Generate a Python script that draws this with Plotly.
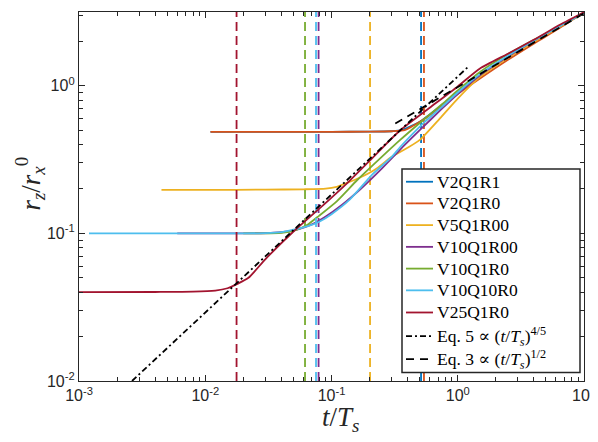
import plotly.graph_objects as go

# ---------------- data ----------------
names = ["V2Q1R1", "V2Q1R0", "V5Q1R00", "V10Q1R00", "V10Q1R0", "V10Q10R0", "V25Q1R0"]
colors = ["#0072BD", "#D95319", "#EDB120", "#7E2F8E", "#77AC30", "#4DBEEE", "#A2142F"]

t_v2q1r1 = [0.011, 0.1, 0.2, 0.3, 0.36, 0.42, 0.5, 0.6, 0.8, 1.0, 1.5, 2.5, 4, 6.5, 10]
r_v2q1r1 = [0.488, 0.488, 0.489, 0.492, 0.50, 0.53, 0.57, 0.64, 0.77, 0.90, 1.17, 1.56, 2.0, 2.55, 3.12]

t_v2q1r0 = [0.011, 0.05, 0.1, 0.2, 0.3, 0.38, 0.45, 0.55, 0.7, 1.0, 1.5, 2.5, 4, 6.5, 10]
r_v2q1r0 = [0.488, 0.488, 0.488, 0.489, 0.492, 0.50, 0.54, 0.60, 0.70, 0.88, 1.12, 1.5, 1.93, 2.48, 3.15]

t_v5q1r00 = [0.0045, 0.01, 0.03, 0.06, 0.09, 0.11, 0.13, 0.17, 0.22, 0.3, 0.4, 0.5, 0.72, 1.0, 1.5, 2.5, 4, 6.5, 10]
r_v5q1r00 = [0.197, 0.197, 0.198, 0.199, 0.201, 0.207, 0.218, 0.24, 0.27, 0.33, 0.38, 0.43, 0.60, 0.82, 1.15, 1.55, 1.98, 2.52, 3.1]

t_v10q1r00 = [0.006, 0.02, 0.035, 0.045, 0.055, 0.07, 0.09, 0.12, 0.17, 0.25, 0.35, 0.5, 0.75, 1.0, 1.5, 2.5, 4, 6.5, 10]
r_v10q1r00 = [0.1, 0.1, 0.101, 0.103, 0.107, 0.115, 0.13, 0.155, 0.2, 0.275, 0.37, 0.5, 0.7, 0.88, 1.18, 1.58, 2.02, 2.55, 3.12]

t_v10q1r0 = [0.02, 0.03, 0.04, 0.05, 0.065, 0.08, 0.11, 0.16, 0.25, 0.35, 0.5, 0.75, 1.0, 1.5, 2.5, 4.7, 7, 10]
r_v10q1r0 = [0.1, 0.1, 0.101, 0.104, 0.115, 0.132, 0.165, 0.23, 0.33, 0.43, 0.56, 0.75, 0.93, 1.24, 1.64, 2.2, 2.65, 3.12]

t_v10q10r0 = [0.0012, 0.005, 0.01, 0.02, 0.03, 0.04, 0.05, 0.065, 0.08, 0.1, 0.14, 0.21, 0.3, 0.35, 0.53, 0.75, 1.0, 1.5, 2.5, 4, 6.5, 10]
r_v10q10r0 = [0.1, 0.1, 0.1, 0.1, 0.1005, 0.102, 0.106, 0.112, 0.12, 0.135, 0.17, 0.25, 0.33, 0.385, 0.555, 0.72, 0.9, 1.2, 1.6, 2.02, 2.55, 3.12]

t_v25q1r0 = [0.001, 0.004, 0.008, 0.012, 0.015, 0.018, 0.022, 0.03, 0.05, 0.08, 0.13, 0.2, 0.35, 0.6, 1.0, 1.5, 2.5, 4, 6.5, 10]
r_v25q1r0 = [0.040, 0.0401, 0.0403, 0.041, 0.0425, 0.0455, 0.050, 0.067, 0.103, 0.147, 0.215, 0.31, 0.50, 0.71, 0.99, 1.31, 1.65, 2.05, 2.6, 3.15]

# vertical dashed markers (t/T_s) for each run
t_marks = [0.512, 0.54, 0.202, 0.079, 0.0617, 0.0754, 0.0177]

# power-law guide lines (end points)
eq5_t = [0.00263, 1.22]
eq5_r = [0.01, 1.355]
eq3_t = [0.32, 10]
eq3_r = [0.555, 3.1]
eq5_name = "Eq. 5 ∝ (<i>t</i>/<i>T<sub>s</sub></i>)<sup>4/5</sup>"
eq3_name = "Eq. 3 ∝ (<i>t</i>/<i>T<sub>s</sub></i>)<sup>1/2</sup>"

# tick labels
x_tickvals = [1e-3, 1e-2, 1e-1, 1e0, 1e1]
x_ticktext = ["10<sup>-3</sup>", "10<sup>-2</sup>", "10<sup>-1</sup>", "10<sup>0</sup>", "10<sup>1</sup>"]
y_tickvals = [1e-2, 1e-1, 1e0]
y_ticktext = ["10<sup>-2</sup>", "10<sup>-1</sup>", "10<sup>0</sup>"]

series_t = [t_v2q1r1, t_v2q1r0, t_v5q1r00, t_v10q1r00, t_v10q1r0, t_v10q10r0, t_v25q1r0]
series_r = [r_v2q1r1, r_v2q1r0, r_v5q1r00, r_v10q1r00, r_v10q1r0, r_v10q10r0, r_v25q1r0]

y_lo, y_hi = 0.01, 3.1623
SERIF = "Times New Roman, Liberation Serif, DejaVu Serif, serif"
SANS = "Liberation Sans, Arial, sans-serif"

EQ5_DASH = "6px,3px,2px,3px"
EQ3_DASH = "8px,6px"

# ---------------- figure ----------------
W, H = 590, 434
ML, MR, MT, MB = 71, 14, 3.5, 60.5
PW, PH = W - ML - MR, H - MT - MB


def px2paper(px, py):
    return (px - ML) / PW, 1 - (py - MT) / PH


fig = go.Figure()
for name, col, tt, rr, tm in zip(names, colors, series_t, series_r, t_marks):
    fig.add_trace(go.Scatter(x=tt, y=rr, mode="lines", name=name, showlegend=False,
                             line=dict(color=col, width=1.8, shape="spline", smoothing=0.6)))
    fig.add_trace(go.Scatter(x=[tm, tm], y=[y_lo, y_hi], mode="lines", showlegend=False,
                             line=dict(color=col, width=1.8, dash="9px,5px"), hoverinfo="skip"))

fig.add_trace(go.Scatter(x=eq5_t, y=eq5_r, mode="lines", name=eq5_name, showlegend=False,
                         line=dict(color="black", width=1.8, dash=EQ5_DASH)))
fig.add_trace(go.Scatter(x=eq3_t, y=eq3_r, mode="lines", name=eq3_name, showlegend=False,
                         line=dict(color="black", width=1.8, dash=EQ3_DASH)))

minor_x = [m * 10 ** e for e in range(-3, 1) for m in range(2, 10)]
minor_y = [m * 10 ** e for e in range(-2, 1) for m in range(2, 10)]

axis_common = dict(type="log", showgrid=False, zeroline=False, showline=True,
                   linecolor="#262626", linewidth=1.3, mirror="ticks",
                   ticks="inside", ticklen=6, tickwidth=1.2, tickcolor="#262626",
                   tickmode="array", automargin=False,
                   tickfont=dict(family=SANS, size=16, color="#262626"))

fig.update_xaxes(range=[-3, 1], tickvals=x_tickvals, ticktext=x_ticktext, **axis_common,
                 minor=dict(tickvals=minor_x, ticks="inside", ticklen=3.5, tickwidth=1.2,
                            tickcolor="#262626", showgrid=False))
fig.update_yaxes(range=[-2, 0.5], tickvals=y_tickvals, ticktext=y_ticktext, **axis_common,
                 minor=dict(tickvals=minor_y, ticks="inside", ticklen=3.5, tickwidth=1.2,
                            tickcolor="#262626", showgrid=False))

# axis titles
fig.add_annotation(text="<i>t</i>/<i>T<sub>s</sub></i>", xref="paper", yref="paper",
                   x=0.517, y=-0.104, xanchor="center", yanchor="middle", showarrow=False,
                   font=dict(family=SERIF, size=27, color="#262626"))
fig.add_annotation(text="<i>r<sub>z</sub></i>/<i>r</i><sub><i>x</i></sub><sup>0</sup>", xref="paper", yref="paper",
                   x=-0.097, y=0.535, xanchor="center", yanchor="middle", showarrow=False, textangle=-90,
                   font=dict(family=SERIF, size=27, color="#262626"))

# legend box (drawn in figure pixels -> paper)
bx0, by0 = px2paper(394, 161)
bx1, by1 = px2paper(572, 365)
fig.add_shape(type="rect", xref="paper", yref="paper", x0=bx0, y0=by1, x1=bx1, y1=by0,
              line=dict(color="#262626", width=1.5), fillcolor="white", layer="above")

leg_labels = names + [eq5_name, eq3_name]
leg_colors = colors + ["black", "black"]
leg_dashes = ["solid"] * len(names) + [EQ5_DASH, EQ3_DASH]
row_y = [173.7, 195.4, 217.2, 239.0, 260.8, 282.6, 304.8, 328.5, 351.5]
for lab, col, dsh, ry in zip(leg_labels, leg_colors, leg_dashes, row_y):
    lx0, ly = px2paper(398, ry)
    lx1, _ = px2paper(425, ry)
    fig.add_shape(type="line", xref="paper", yref="paper", x0=lx0, x1=lx1, y0=ly, y1=ly,
                  line=dict(color=col, width=1.8, dash=dsh), layer="above")
    tx, _ = px2paper(427, ry)
    fig.add_annotation(text=lab, xref="paper", yref="paper", x=tx, y=ly,
                       xanchor="left", yanchor="middle", showarrow=False,
                       font=dict(family=SERIF, size=17.5, color="black"))

fig.update_layout(
    width=W, height=H,
    margin=dict(l=ML, r=MR, t=MT, b=MB, autoexpand=False),
    paper_bgcolor="white", plot_bgcolor="white",
    showlegend=False,
)

fig.write_html("out.html")
